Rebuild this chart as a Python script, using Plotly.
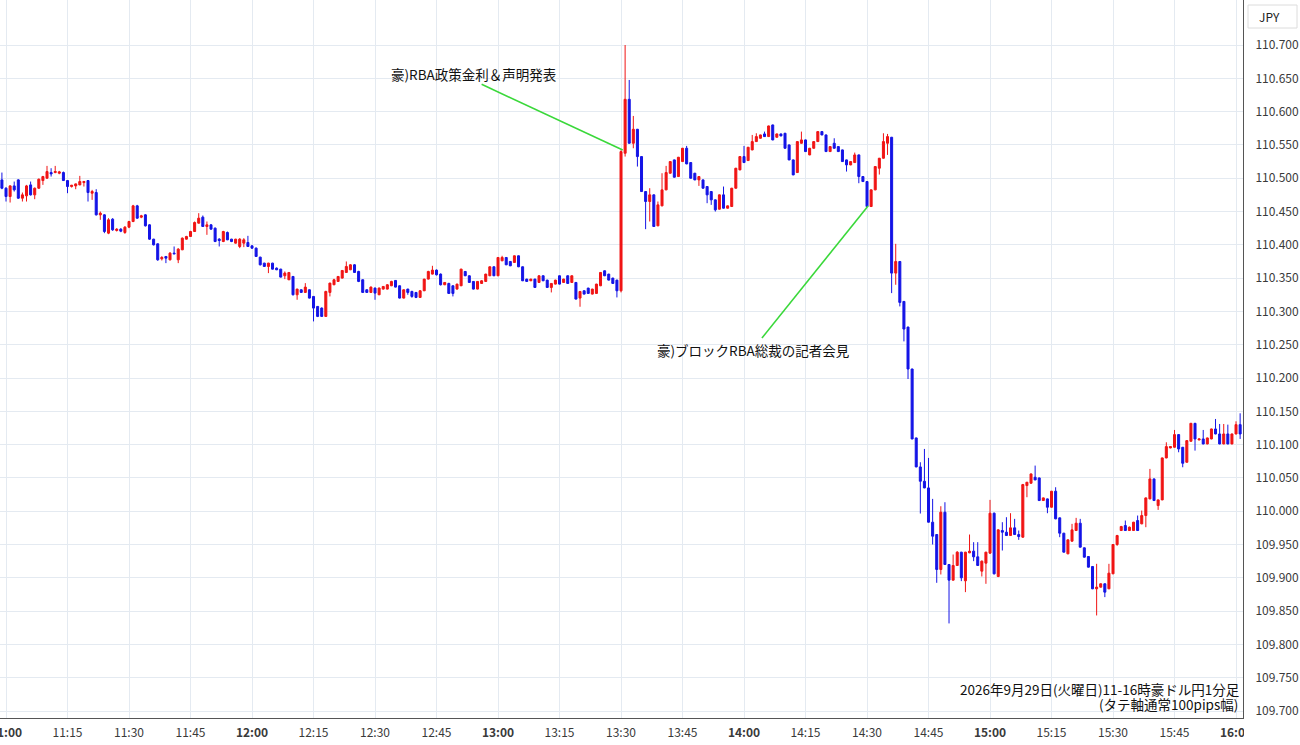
import pandas as pd
import plotly.graph_objects as go

# ---------------- data: AUD/JPY 1-minute candles, 10:59 - 16:01 ----------------
start_time = "2026-09-29 10:59"

opens = [
    110.4975, 110.485, 110.4725, 110.4885, 110.4975, 110.470, 110.4735, 110.490, 110.475, 110.485,
    110.4965, 110.500, 110.5085, 110.5085, 110.5075, 110.5085, 110.4965, 110.4875, 110.4885, 110.490,
    110.4935, 110.4965, 110.4775, 110.4785, 110.445, 110.445, 110.4175, 110.4385, 110.4215, 110.4235,
    110.4185, 110.4265, 110.435, 110.4585, 110.4415, 110.445, 110.430, 110.4085, 110.4015, 110.379,
    110.3825, 110.3775, 110.3875, 110.3775, 110.3925, 110.4085, 110.4125, 110.420, 110.4325, 110.4415,
    110.4275, 110.430, 110.425, 110.4085, 110.405, 110.4185, 110.4085, 110.4025, 110.3975, 110.4025,
    110.4035, 110.3985, 110.395, 110.3815, 110.3725, 110.3675, 110.3725, 110.365, 110.3635, 110.3535,
    110.3475, 110.3525, 110.325, 110.3325, 110.3285, 110.3325, 110.3225, 110.3075, 110.305, 110.2925,
    110.3285, 110.340, 110.345, 110.350, 110.3585, 110.3625, 110.370, 110.360, 110.3475, 110.3325,
    110.3285, 110.335, 110.325, 110.3335, 110.3335, 110.3385, 110.3465, 110.3385, 110.320, 110.3335,
    110.330, 110.3285, 110.321, 110.331, 110.3485, 110.356, 110.362, 110.356, 110.340, 110.342,
    110.3385, 110.3335, 110.3385, 110.360, 110.3535, 110.345, 110.3335, 110.342, 110.345, 110.3535,
    110.367, 110.3535, 110.376, 110.381, 110.375, 110.3735, 110.3835, 110.367, 110.3485, 110.346,
    110.3485, 110.3435, 110.3535, 110.347, 110.336, 110.341, 110.3535, 110.3435, 110.3535, 110.3435,
    110.3435, 110.320, 110.331, 110.335, 110.326, 110.327, 110.3385, 110.361, 110.356, 110.350,
    110.347, 110.331, 110.5375, 110.6185, 110.5525, 110.5735, 110.5325, 110.480, 110.465, 110.475,
    110.4285, 110.4585, 110.4825, 110.5075, 110.5275, 110.5025, 110.525, 110.545, 110.5235, 110.5075,
    110.4975, 110.4975, 110.4875, 110.480, 110.4675, 110.4535, 110.475, 110.455, 110.4575, 110.485,
    110.5125, 110.5325, 110.5265, 110.5425, 110.555, 110.560, 110.5665, 110.5625, 110.580, 110.5615,
    110.5665, 110.5675, 110.550, 110.5275, 110.5085, 110.5525, 110.5575, 110.535, 110.545, 110.555,
    110.570, 110.565, 110.540, 110.5525, 110.5475, 110.5425, 110.5275, 110.520, 110.5235, 110.535,
    110.5025, 110.495, 110.4575, 110.4825, 110.515, 110.530, 110.5525, 110.5615, 110.3575, 110.375,
    110.315, 110.2765, 110.2135, 110.110, 110.0665, 110.045, 110.035, 109.9835, 109.965, 109.9125,
    109.9985, 109.920, 109.8965, 109.9185, 109.9385, 109.8955, 109.9375, 109.940, 109.9315, 109.910,
    109.922, 109.937, 109.997, 109.902, 109.971, 109.9685, 109.9635, 109.975, 109.965, 109.961,
    110.0385, 110.042, 110.051, 110.050, 110.016, 110.0185, 110.006, 110.030, 109.990, 109.967,
    109.936, 109.955, 109.971, 109.982, 109.945, 109.932, 109.917, 109.8835, 109.886, 109.891,
    109.8835, 109.906, 109.950, 109.971, 109.9785, 109.971, 109.971, 109.986, 109.981, 109.9935,
    110.0185, 110.0485, 110.0085, 110.017, 110.080, 110.095, 110.096, 110.115, 110.096, 110.0735,
    110.105, 110.132, 110.107, 110.1085, 110.101, 110.1085, 110.1235, 110.116, 110.101, 110.116,
    110.101, 110.116, 110.130,
]

highs = [
    110.5085, 110.4865, 110.4895, 110.495, 110.4985, 110.4785, 110.490, 110.495, 110.486, 110.4995,
    110.5035, 110.5185, 110.515, 110.5185, 110.511, 110.510, 110.497, 110.490, 110.492, 110.5035,
    110.496, 110.497, 110.4825, 110.4835, 110.450, 110.446, 110.440, 110.440, 110.425, 110.425,
    110.428, 110.436, 110.460, 110.460, 110.445, 110.446, 110.431, 110.409, 110.402, 110.383,
    110.383, 110.389, 110.3975, 110.395, 110.411, 110.4135, 110.421, 110.435, 110.4475, 110.444,
    110.435, 110.431, 110.426, 110.410, 110.421, 110.420, 110.409, 110.409, 110.410, 110.410,
    110.4135, 110.399, 110.396, 110.382, 110.373, 110.373, 110.373, 110.366, 110.364, 110.360,
    110.359, 110.353, 110.334, 110.333, 110.3425, 110.333, 110.323, 110.308, 110.306, 110.331,
    110.343, 110.349, 110.353, 110.362, 110.375, 110.371, 110.371, 110.361, 110.348, 110.333,
    110.3375, 110.336, 110.336, 110.338, 110.341, 110.346, 110.347, 110.339, 110.333, 110.334,
    110.331, 110.329, 110.332, 110.349, 110.361, 110.3685, 110.363, 110.357, 110.344, 110.343,
    110.339, 110.3415, 110.364, 110.3605, 110.354, 110.3455, 110.3455, 110.347, 110.3565, 110.3675,
    110.3675, 110.3815, 110.3835, 110.3815, 110.3755, 110.384, 110.384, 110.3675, 110.349, 110.349,
    110.349, 110.354, 110.354, 110.3475, 110.3425, 110.3475, 110.354, 110.349, 110.354, 110.354,
    110.344, 110.3305, 110.3315, 110.3355, 110.334, 110.3415, 110.359, 110.3615, 110.3565, 110.3505,
    110.3475, 110.542, 110.700, 110.6475, 110.5935, 110.574, 110.533, 110.4805, 110.485, 110.4755,
    110.465, 110.5075, 110.5185, 110.5255, 110.528, 110.532, 110.5455, 110.5485, 110.524, 110.508,
    110.503, 110.498, 110.488, 110.4805, 110.468, 110.4755, 110.4875, 110.459, 110.4855, 110.5155,
    110.533, 110.5485, 110.547, 110.565, 110.5675, 110.5655, 110.570, 110.579, 110.5805, 110.567,
    110.567, 110.568, 110.5505, 110.528, 110.5555, 110.570, 110.558, 110.5455, 110.5555, 110.5705,
    110.5705, 110.5655, 110.548, 110.560, 110.548, 110.543, 110.528, 110.5255, 110.5385, 110.5355,
    110.503, 110.4955, 110.483, 110.518, 110.5305, 110.5675, 110.5665, 110.562, 110.4015, 110.3755,
    110.3155, 110.277, 110.214, 110.1105, 110.0735, 110.0935, 110.080, 110.0185, 109.9655, 110.0075,
    110.0135, 109.9205, 109.935, 109.940, 109.939, 109.939, 109.965, 109.9535, 109.9535, 109.926,
    109.939, 110.017, 109.998, 109.973, 109.9835, 109.991, 109.997, 109.9885, 109.971, 110.041,
    110.044, 110.0565, 110.0685, 110.0505, 110.0205, 110.019, 110.0305, 110.036, 109.9905, 109.9675,
    109.9575, 109.981, 109.990, 109.9885, 109.9455, 109.9325, 109.9175, 109.921, 109.8915, 109.8915,
    109.921, 109.9505, 109.9645, 109.978, 109.986, 109.977, 109.984, 109.9935, 110.001, 110.0205,
    110.0635, 110.049, 110.0175, 110.0805, 110.1035, 110.0975, 110.122, 110.1155, 110.0965, 110.1065,
    110.1325, 110.1325, 110.109, 110.122, 110.1105, 110.124, 110.1385, 110.131, 110.131, 110.130,
    110.1165, 110.135, 110.147,
]

lows = [
    110.4835, 110.465, 110.4635, 110.480, 110.469, 110.465, 110.465, 110.474, 110.4685, 110.484,
    110.490, 110.4995, 110.5025, 110.5075, 110.506, 110.496, 110.4775, 110.486, 110.4835, 110.4895,
    110.4875, 110.465, 110.4675, 110.444, 110.4375, 110.4175, 110.416, 110.421, 110.420, 110.419,
    110.4165, 110.425, 110.434, 110.439, 110.440, 110.4275, 110.4075, 110.399, 110.376, 110.3765,
    110.3725, 110.3765, 110.386, 110.3725, 110.392, 110.408, 110.412, 110.4195, 110.432, 110.427,
    110.415, 110.423, 110.404, 110.3975, 110.404, 110.407, 110.404, 110.402, 110.395, 110.3965,
    110.397, 110.394, 110.382, 110.369, 110.367, 110.3575, 110.363, 110.362, 110.351, 110.3485,
    110.347, 110.324, 110.3175, 110.328, 110.328, 110.3195, 110.285, 110.2915, 110.292, 110.292,
    110.3225, 110.3395, 110.3445, 110.3495, 110.358, 110.362, 110.358, 110.344, 110.328, 110.328,
    110.328, 110.3175, 110.3245, 110.333, 110.333, 110.338, 110.336, 110.3195, 110.3195, 110.325,
    110.3205, 110.320, 110.3205, 110.3305, 110.348, 110.3555, 110.354, 110.339, 110.3395, 110.3265,
    110.3225, 110.333, 110.338, 110.353, 110.343, 110.333, 110.333, 110.3415, 110.3445, 110.353,
    110.353, 110.353, 110.3755, 110.3695, 110.368, 110.373, 110.3665, 110.3455, 110.3445, 110.3455,
    110.3355, 110.343, 110.3455, 110.3355, 110.3285, 110.3405, 110.3405, 110.343, 110.3415, 110.343,
    110.318, 110.307, 110.3255, 110.3265, 110.3255, 110.3265, 110.338, 110.353, 110.3465, 110.3415,
    110.321, 110.3285, 110.5325, 110.552, 110.545, 110.5175, 110.4795, 110.4235, 110.435, 110.427,
    110.428, 110.458, 110.482, 110.507, 110.501, 110.502, 110.5245, 110.521, 110.4995, 110.497,
    110.4885, 110.4845, 110.4625, 110.460, 110.450, 110.453, 110.4545, 110.4545, 110.457, 110.4845,
    110.512, 110.523, 110.526, 110.542, 110.5545, 110.5595, 110.562, 110.562, 110.557, 110.561,
    110.563, 110.5445, 110.527, 110.5045, 110.508, 110.552, 110.5395, 110.5345, 110.5445, 110.5545,
    110.5645, 110.5395, 110.5395, 110.5445, 110.5395, 110.5245, 110.510, 110.5195, 110.523, 110.4925,
    110.4945, 110.457, 110.457, 110.482, 110.5055, 110.5295, 110.535, 110.3275, 110.340, 110.3075,
    110.255, 110.1985, 110.108, 110.066, 109.9965, 110.0345, 109.983, 109.950, 109.8925, 109.905,
    109.9195, 109.8315, 109.896, 109.918, 109.895, 109.8785, 109.937, 109.925, 109.918, 109.902,
    109.891, 109.936, 109.905, 109.901, 109.941, 109.963, 109.963, 109.9645, 109.957, 109.960,
    110.021, 110.0415, 110.0465, 110.0155, 110.0155, 109.997, 110.0055, 109.988, 109.961, 109.938,
    109.9355, 109.9545, 109.9705, 109.9455, 109.9305, 109.9155, 109.883, 109.8435, 109.8855, 109.871,
    109.883, 109.9055, 109.948, 109.9705, 109.9705, 109.9705, 109.9705, 109.9705, 109.9805, 109.976,
    110.018, 110.0155, 110.002, 110.0165, 110.0795, 110.0945, 110.0955, 110.0885, 110.066, 110.073,
    110.1045, 110.091, 110.1065, 110.1005, 110.1005, 110.108, 110.1155, 110.1005, 110.1005, 110.1005,
    110.1005, 110.1155, 110.1085,
]

closes = [
    110.485, 110.4725, 110.4885, 110.4825, 110.470, 110.475, 110.4885, 110.475, 110.485, 110.4985,
    110.5025, 110.510, 110.5065, 110.510, 110.5095, 110.4965, 110.4875, 110.4895, 110.4915, 110.495,
    110.495, 110.4785, 110.480, 110.445, 110.4475, 110.420, 110.4375, 110.4225, 110.4235, 110.4205,
    110.4265, 110.435, 110.4585, 110.440, 110.4435, 110.4285, 110.4085, 110.400, 110.3775, 110.381,
    110.380, 110.3875, 110.3865, 110.3935, 110.410, 110.4125, 110.420, 110.4335, 110.440, 110.4275,
    110.430, 110.4235, 110.405, 110.4065, 110.420, 110.4075, 110.405, 110.4085, 110.4085, 110.4075,
    110.3975, 110.395, 110.3825, 110.370, 110.3675, 110.3725, 110.3635, 110.3625, 110.3515, 110.3575,
    110.3585, 110.325, 110.3335, 110.3285, 110.3365, 110.320, 110.305, 110.2925, 110.2925, 110.330,
    110.3425, 110.3475, 110.3525, 110.3615, 110.3675, 110.370, 110.3585, 110.345, 110.3285, 110.3285,
    110.3365, 110.3275, 110.335, 110.3375, 110.340, 110.345, 110.3365, 110.320, 110.3325, 110.3285,
    110.3225, 110.321, 110.331, 110.3485, 110.360, 110.362, 110.355, 110.340, 110.3435, 110.327,
    110.327, 110.341, 110.3635, 110.3535, 110.3435, 110.3335, 110.345, 110.346, 110.356, 110.367,
    110.3535, 110.381, 110.381, 110.370, 110.3685, 110.3835, 110.367, 110.346, 110.345, 110.3485,
    110.336, 110.3535, 110.346, 110.336, 110.342, 110.347, 110.341, 110.3485, 110.342, 110.3535,
    110.3185, 110.330, 110.326, 110.327, 110.3335, 110.341, 110.3585, 110.3535, 110.347, 110.342,
    110.331, 110.540, 110.6185, 110.5525, 110.5735, 110.5325, 110.480, 110.465, 110.475, 110.4275,
    110.460, 110.4825, 110.5085, 110.525, 110.5015, 110.5315, 110.545, 110.5215, 110.500, 110.4975,
    110.5025, 110.485, 110.475, 110.4675, 110.4525, 110.475, 110.455, 110.4585, 110.485, 110.515,
    110.5325, 110.5235, 110.5465, 110.555, 110.5625, 110.565, 110.5625, 110.5785, 110.5575, 110.5665,
    110.5635, 110.545, 110.5275, 110.505, 110.555, 110.5575, 110.540, 110.545, 110.555, 110.570,
    110.565, 110.540, 110.5475, 110.545, 110.540, 110.525, 110.520, 110.525, 110.535, 110.5025,
    110.495, 110.4575, 110.4825, 110.5175, 110.530, 110.555, 110.5625, 110.3575, 110.375, 110.3135,
    110.2735, 110.2135, 110.1085, 110.0665, 110.045, 110.035, 109.9835, 109.9625, 109.9125, 109.9985,
    109.920, 109.8965, 109.9185, 109.9385, 109.900, 109.9385, 109.940, 109.9315, 109.9185, 109.925,
    109.9385, 109.997, 109.906, 109.972, 109.9685, 109.9635, 109.975, 109.965, 109.962, 110.040,
    110.0435, 110.056, 110.047, 110.016, 110.020, 110.006, 110.030, 109.9885, 109.967, 109.9385,
    109.957, 109.972, 109.982, 109.946, 109.931, 109.916, 109.8835, 109.886, 109.891, 109.8785,
    109.907, 109.950, 109.9635, 109.977, 109.971, 109.976, 109.9835, 109.971, 109.9935, 110.020,
    110.0485, 110.016, 110.017, 110.080, 110.097, 110.097, 110.115, 110.0935, 110.072, 110.106,
    110.132, 110.1085, 110.1085, 110.101, 110.110, 110.1235, 110.116, 110.101, 110.116, 110.101,
    110.116, 110.130, 110.116,
]

tick_times = ["11:00", "11:15", "11:30", "11:45", "12:00", "12:15", "12:30", "12:45",
              "13:00", "13:15", "13:30", "13:45", "14:00", "14:15", "14:30", "14:45",
              "15:00", "15:15", "15:30", "15:45", "16:00"]

price_ticks = [109.70, 109.75, 109.80, 109.85, 109.90, 109.95, 110.00, 110.05, 110.10,
               110.15, 110.20, 110.25, 110.30, 110.35, 110.40, 110.45, 110.50, 110.55,
               110.60, 110.65, 110.70]

note1 = "豪)RBA政策金利＆声明発表"
note2 = "豪)ブロックRBA総裁の記者会見"
caption1 = "2026年9月29日(火曜日)11-16時豪ドル円1分足"
caption2 = "(タテ軸通常100pips幅)"

# ---------------- figure ----------------
DAY = "2026-09-29 "
times = pd.date_range(start_time, periods=len(closes), freq="1min")

RED = "#f01414"
BLUE = "#1414e6"
FONT = "Noto Sans CJK JP"

fig = go.Figure(go.Candlestick(
    x=times, open=opens, high=highs, low=lows, close=closes,
    increasing=dict(line=dict(color=RED, width=1), fillcolor=RED),
    decreasing=dict(line=dict(color=BLUE, width=1), fillcolor=BLUE),
    whiskerwidth=0, showlegend=False, hoverinfo="skip",
))

W, H = 1300, 745
ML, MR, MT, MB = 0, 57, 0, 27
PW, PH = W - ML - MR, H - MT - MB


def px(x):
    return x / PW


def py(y):
    return 1 - y / PH


ticktext = [f"<b>{t}</b>" if t.endswith(":00") else t for t in tick_times]

fig.update_layout(
    width=W, height=H,
    margin=dict(l=ML, r=MR, t=MT, b=MB, autoexpand=False),
    paper_bgcolor="white", plot_bgcolor="white",
    font=dict(family=FONT, color="#333333", size=12),
    xaxis=dict(
        type="date",
        range=[DAY + "10:58:32", DAY + "16:01:42"],
        rangeslider=dict(visible=False),
        tickvals=[DAY + t for t in tick_times],
        ticktext=ticktext,
        showgrid=True, gridcolor="#e4eaf1", gridwidth=1,
        showline=True, linecolor="#555555", linewidth=1,
        ticks="", ticklabelstandoff=4, ticklabeloverflow="allow",
        automargin=False,
        tickfont=dict(size=12, color="#3a3a3a"),
        zeroline=False, fixedrange=True,
    ),
    yaxis=dict(
        side="right",
        range=[109.6895, 110.7676],
        tickvals=price_ticks, tickformat=".3f",
        showgrid=True, gridcolor="#e4eaf1", gridwidth=1,
        showline=True, linecolor="#555555", linewidth=1,
        ticks="", ticklabelstandoff=9, automargin=False,
        tickfont=dict(size=12, color="#3a3a3a"),
        zeroline=False, fixedrange=True,
    ),
    shapes=[
        dict(type="line", xref="x", yref="y",
             x0=DAY + "12:56:00", y0=110.641, x1=DAY + "13:30:25", y1=110.5424,
             line=dict(color="#3ad83a", width=1.6)),
        dict(type="line", xref="x", yref="y",
             x0=DAY + "14:04:22", y0=110.260, x1=DAY + "14:30:15", y1=110.4583,
             line=dict(color="#3ad83a", width=1.6)),
        dict(type="rect", xref="paper", yref="paper",
             x0=px(1248), x1=px(1297), y0=py(28), y1=py(5),
             line=dict(color="#dcdcdc", width=1), fillcolor="rgba(0,0,0,0)", layer="below"),
        dict(type="rect", xref="paper", yref="paper",
             x0=px(1244), x1=px(1300), y0=py(745), y1=py(719),
             line=dict(width=0), fillcolor="white", layer="above"),
    ],
    annotations=[
        dict(text=note1, xref="paper", yref="paper", x=px(389), y=py(74),
             xanchor="left", yanchor="middle", showarrow=False,
             font=dict(size=13.5, color="#111111", family=FONT)),
        dict(text=note2, xref="paper", yref="paper", x=px(655), y=py(350),
             xanchor="left", yanchor="middle", showarrow=False,
             font=dict(size=13.5, color="#111111", family=FONT)),
        dict(text=caption1, xref="paper", yref="paper", x=px(1241), y=py(689),
             xanchor="right", yanchor="middle", showarrow=False, borderpad=0,
             font=dict(size=13.5, color="#111111", family=FONT)),
        dict(text=caption2, xref="paper", yref="paper", x=px(1239), y=py(704),
             xanchor="right", yanchor="middle", showarrow=False, borderpad=0,
             font=dict(size=13.5, color="#111111", family=FONT)),
        dict(text="JPY", xref="paper", yref="paper", x=px(1257), y=py(16.5),
             xanchor="left", yanchor="middle", showarrow=False,
             font=dict(size=12, color="#222222", family=FONT)),
    ],
)

fig.write_html("out.html", config={"displayModeBar": False},
               post_script="document.body.style.margin='0';")
